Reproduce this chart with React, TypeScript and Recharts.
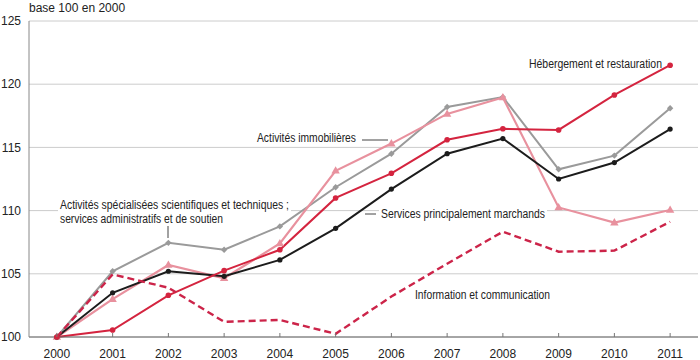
import React from "react";
import { LineChart, Line, XAxis, YAxis, CartesianGrid } from "recharts";

const years = [2000, 2001, 2002, 2003, 2004, 2005, 2006, 2007, 2008, 2009, 2010, 2011];
const marchands = [100, 103.5, 105.2, 104.8, 106.1, 108.6, 111.7, 114.5, 115.7, 112.5, 113.8, 116.45];
const immobilieres = [100, 103.0, 105.7, 104.65, 107.4, 113.15, 115.3, 117.65, 118.95, 110.25, 109.05, 110.05];
const specialisees = [100, 105.2, 107.45, 106.9, 108.75, 111.85, 114.5, 118.2, 118.98, 113.27, 114.35, 118.1];
const hebergement = [100, 100.55, 103.3, 105.25, 106.9, 111.0, 112.95, 115.6, 116.47, 116.38, 119.15, 121.5];
const information = [100, 104.95, 103.9, 101.2, 101.35, 100.25, 103.2, 105.8, 108.33, 106.75, 106.83, 109.12];
const yTicks = [100, 105, 110, 115, 120, 125];

const data = years.map((y, i) => ({
  year: y,
  marchands: marchands[i],
  immobilieres: immobilieres[i],
  specialisees: specialisees[i],
  hebergement: hebergement[i],
  information: information[i],
}));

const FONT = "'Liberation Sans', Arial, Helvetica, sans-serif";
const NARROW = "'Liberation Sans Narrow', 'Liberation Sans', Arial, sans-serif";

const C_BLACK = "#1c1c1c";
const C_GRAY = "#9a9a9a";
const C_PINK = "#e8919e";
const C_RED = "#d4243f";
const C_DASH = "#cc2449";

const circleDot = (color: string, r: number) => (props: any) => {
  const { cx, cy, index } = props;
  return <circle key={`c-${color}-${index}`} cx={cx} cy={cy} r={r} fill={color} stroke="none" />;
};
const diamondDot = (color: string, s: number) => (props: any) => {
  const { cx, cy, index } = props;
  return (
    <path
      key={`d-${index}`}
      d={`M${cx},${cy - s}L${cx + s},${cy}L${cx},${cy + s}L${cx - s},${cy}Z`}
      fill={color}
    />
  );
};
const triangleDot = (color: string) => (props: any) => {
  const { cx, cy, index } = props;
  return (
    <path
      key={`t-${index}`}
      d={`M${cx},${cy - 4.5}L${cx + 4.2},${cy + 2.8}L${cx - 4.2},${cy + 2.8}Z`}
      fill={color}
    />
  );
};

const XTick = (props: any) => {
  const { x, y, payload } = props;
  return (
    <g>
      <line x1={x} x2={x} y1={y} y2={y - 4} stroke="#777" strokeWidth={1} />
      <text x={x} y={y + 21} textAnchor="middle" fontSize={12} fontFamily={FONT} fill="#222">
        {payload.value}
      </text>
    </g>
  );
};

const Annot = ({ x, y, w, children, anchor = "start", bg = false }: any) => {
  const left = anchor === "end" ? x - w : x;
  return (
    <g>
      {bg && <rect x={left - 2} y={y - 10} width={w + 4} height={13} fill="#fff" />}
      <text
        x={x}
        y={y}
        textAnchor={anchor}
        fontSize={12}
        fontFamily={NARROW}
        fill="#222"
        textLength={w}
        lengthAdjust="spacingAndGlyphs"
      >
        {children}
      </text>
    </g>
  );
};

export default function App() {
  return (
    <div style={{ position: "fixed", left: 0, top: 0, width: 700, height: 360, background: "#fff" }}>
      <LineChart
        width={700}
        height={360}
        data={data}
        margin={{ top: 21, right: 2, left: 0, bottom: 0 }}
      >
        <CartesianGrid vertical={false} stroke="#cccccc" strokeWidth={1} />
        <XAxis
          dataKey="year"
          type="number"
          domain={[1999.5, 2011.5]}
          ticks={years}
          height={23}
          tickSize={0}
          tickMargin={0}
          tickLine={false}
          axisLine={{ stroke: "#666", strokeWidth: 1 }}
          tick={<XTick />}
          interval={0}
        />
        <YAxis
          domain={[100, 125]}
          ticks={yTicks}
          width={29}
          tickSize={0}
          tickMargin={8}
          tickLine={false}
          axisLine={{ stroke: "#888", strokeWidth: 1 }}
          tick={{ fontSize: 12, fontFamily: FONT, fill: "#222" }}
          interval={0}
        />
        <Line
          dataKey="specialisees"
          stroke={C_GRAY}
          strokeWidth={2}
          dot={diamondDot(C_GRAY, 3.2)}
          isAnimationActive={false}
        />
        <Line
          dataKey="immobilieres"
          stroke={C_PINK}
          strokeWidth={2.2}
          dot={triangleDot(C_PINK)}
          isAnimationActive={false}
        />
        <Line
          dataKey="marchands"
          stroke={C_BLACK}
          strokeWidth={2}
          dot={circleDot(C_BLACK, 2.6)}
          isAnimationActive={false}
        />
        <Line
          dataKey="hebergement"
          stroke={C_RED}
          strokeWidth={2}
          dot={circleDot(C_RED, 2.8)}
          isAnimationActive={false}
        />
        <Line
          dataKey="information"
          stroke={C_DASH}
          strokeWidth={2.4}
          strokeDasharray="7 4"
          dot={false}
          isAnimationActive={false}
        />
      </LineChart>
      <svg
        width={700}
        height={360}
        style={{ position: "absolute", left: 0, top: 0, pointerEvents: "none" }}
      >
        <text x={29} y={11.5} fontSize={12} fontFamily={FONT} fill="#222">
          base 100 en 2000
        </text>
        <Annot x={662} y={67.5} w={133} anchor="end">Hébergement et restauration</Annot>
        <Annot x={257} y={142} w={99}>Activités immobilières</Annot>
        <line x1={362} x2={388} y1={140} y2={140} stroke="#444" strokeWidth={1} />
        <Annot x={381} y={218} w={164} bg>Services principalement marchands</Annot>
        <line x1={365} x2={376} y1={214} y2={214} stroke="#444" strokeWidth={1} />
        <Annot x={60} y={209} w={229} bg>Activités spécialisées scientifiques et techniques ;</Annot>
        <Annot x={60} y={222.7} w={163}>services administratifs et de soutien</Annot>
        <line x1={168} x2={168} y1={226} y2={238} stroke="#444" strokeWidth={1} />
        <Annot x={415} y={299} w={135}>Information et communication</Annot>
      </svg>
    </div>
  );
}
